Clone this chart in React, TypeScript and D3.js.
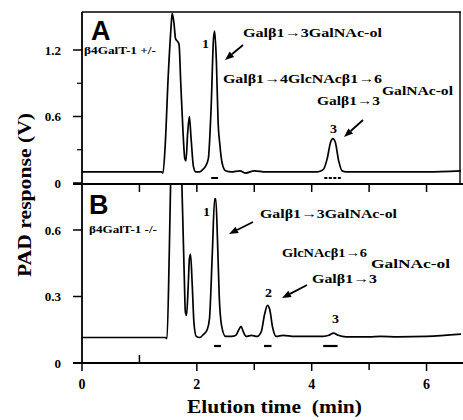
import React from "react";
import * as d3 from "d3";

const xTicks = [0, 2, 4, 6];
const xMinorTicks = [1, 3, 5];
const yTicksA = [0, 0.6, 1.2];
const yMinorA = [0.3, 0.9];
const yTicksB = [0, 0.3, 0.6];

const timeA = [0, 1.38, 1.41, 1.45, 1.5, 1.55, 1.57, 1.6, 1.63, 1.66, 1.69, 1.72, 1.76, 1.79, 1.81, 1.84, 1.87, 1.9, 1.94, 1.98, 2.05, 2.1, 2.15, 2.2, 2.25, 2.29, 2.31, 2.34, 2.37, 2.4, 2.44, 2.5, 2.6, 2.75, 2.85, 3.0, 3.2, 3.4, 3.6, 3.8, 4.1, 4.2, 4.27, 4.33, 4.37, 4.41, 4.47, 4.53, 4.6, 5.0, 5.5, 6.0, 6.6];
const valueA = [0.1, 0.1, 0.09, 0.35, 0.95, 1.4, 1.53, 1.45, 1.3, 1.28, 1.25, 0.9, 0.45, 0.22, 0.2, 0.45, 0.6, 0.4, 0.15, 0.1, 0.1, 0.12, 0.15, 0.22, 0.7, 1.3, 1.37, 1.1, 0.55, 0.35, 0.18, 0.11, 0.1, 0.11, 0.09, 0.11, 0.1, 0.1, 0.1, 0.1, 0.1, 0.12, 0.22, 0.37, 0.4, 0.37, 0.2, 0.11, 0.1, 0.1, 0.1, 0.1, 0.11];

const timeB = [0, 1.45, 1.48, 1.52, 1.55, 1.6, 1.65, 1.72, 1.75, 1.78, 1.8, 1.82, 1.85, 1.87, 1.89, 1.92, 1.95, 1.99, 2.05, 2.12, 2.18, 2.22, 2.27, 2.31, 2.33, 2.36, 2.39, 2.43, 2.5, 2.6, 2.68, 2.73, 2.77, 2.81, 2.86, 2.95, 3.05, 3.12, 3.18, 3.23, 3.27, 3.32, 3.38, 3.5, 3.7, 3.9, 4.2, 4.3, 4.38, 4.46, 4.6, 5.0, 5.2, 5.5, 6.0, 6.6];
const valueB = [0.115, 0.115, 0.11, 0.5, 0.9, 1.2, 1.0, 0.95, 0.7, 0.4, 0.23, 0.215, 0.35, 0.47, 0.49, 0.35, 0.18, 0.12, 0.115, 0.13, 0.15, 0.2, 0.5, 0.74, 0.74, 0.55, 0.3, 0.17, 0.12, 0.12, 0.125, 0.15, 0.165, 0.14, 0.12, 0.125, 0.12, 0.14, 0.22, 0.26, 0.24, 0.16, 0.12, 0.125, 0.12, 0.12, 0.12, 0.125, 0.135, 0.125, 0.118, 0.118, 0.12, 0.118, 0.12, 0.13];

// fraction-collection markers [start, end] in minutes
const markersA = [[2.25, 2.37], [4.22, 4.52]];
const markersB = [[2.3, 2.42], [3.17, 3.3], [4.2, 4.45]];

const serif = "'Liberation Serif', 'DejaVu Serif', serif";

export default function App() {
  const x = d3.scaleLinear().domain([0, 6.6]).range([82, 461]);
  const yA = d3.scaleLinear().domain([0, 1.2]).range([183, 50]);
  const yB = d3.scaleLinear().domain([0, 0.6]).range([363, 230]);

  const lineA = d3
    .line<number>()
    .x((_, i) => x(timeA[i]))
    .y((d) => yA(d))
    .curve(d3.curveMonotoneX);
  const lineB = d3
    .line<number>()
    .x((_, i) => x(timeB[i]))
    .y((d) => yB(d))
    .curve(d3.curveMonotoneX);

  const arrow = (x1: number, y1: number, x2: number, y2: number) => {
    const ang = Math.atan2(y2 - y1, x2 - x1);
    const L = 9, W = 3.5;
    const bx = x2 - L * Math.cos(ang), by = y2 - L * Math.sin(ang);
    const px = -Math.sin(ang) * W, py = Math.cos(ang) * W;
    return (
      <g>
        <line x1={x1} y1={y1} x2={bx} y2={by} stroke="#000" strokeWidth={1.8} />
        <path d={`M${x2},${y2}L${bx + px},${by + py}L${bx - px},${by - py}Z`} fill="#000" />
      </g>
    );
  };

  const txt = { fontFamily: serif, fontWeight: 700, fill: "#000" } as const;
  const T = (props: { x: number; y: number; w: number; s?: number; children: React.ReactNode }) => (
    <text x={props.x} y={props.y} fontSize={props.s ?? 13.5} textLength={props.w} lengthAdjust="spacingAndGlyphs" {...txt}>
      {props.children}
    </text>
  );

  return (
    <svg width={463} height={420} style={{ position: "absolute", left: 0, top: 0, background: "#fff" }}>
      <defs>
        <clipPath id="clipB">
          <rect x={82} y={184} width={381} height={180} />
        </clipPath>
        <clipPath id="clipA">
          <rect x={82} y={12} width={379} height={172} />
        </clipPath>
      </defs>

      {/* Panel A frame */}
      <line x1={82} y1={12} x2={461} y2={12} stroke="#000" strokeWidth={1.6} />
      <line x1={460} y1={12} x2={460} y2={184} stroke="#000" strokeWidth={1.4} />
      <line x1={73} y1={184} x2={463} y2={184} stroke="#000" strokeWidth={1.8} />
      <line x1={82} y1={12} x2={82} y2={364} stroke="#000" strokeWidth={1.8} />
      {/* B bottom axis */}
      <line x1={73} y1={363} x2={463} y2={363} stroke="#000" strokeWidth={1.8} />

      {/* y ticks A */}
      {yTicksA.map((t) => (
        <g key={"ya" + t}>
          <line x1={73} x2={82} y1={yA(t)} y2={yA(t)} stroke="#000" strokeWidth={1.5} />
          <text x={61} y={yA(t) + 4.5} textAnchor="end" fontSize={13} {...txt}>
            {t === 0 ? "0" : t.toFixed(1)}
          </text>
        </g>
      ))}
      {yMinorA.map((t) => (
        <line key={"yma" + t} x1={77} x2={82} y1={yA(t)} y2={yA(t)} stroke="#000" strokeWidth={1.2} />
      ))}
      {/* y ticks B */}
      {yTicksB.map((t) => (
        <g key={"yb" + t}>
          <line x1={73} x2={82} y1={yB(t)} y2={yB(t)} stroke="#000" strokeWidth={1.5} />
          <text x={61} y={yB(t) + 4.5} textAnchor="end" fontSize={13} {...txt}>
            {t === 0 ? "0" : t.toFixed(1)}
          </text>
        </g>
      ))}

      {/* top ticks of B (pointing down from shared line) */}
      {[...xMinorTicks, ...xTicks.filter((t) => t > 0)].map((t) => (
        <line key={"tt" + t} x1={x(t)} x2={x(t)} y1={184} y2={192} stroke="#000" strokeWidth={1.5} />
      ))}

      {/* bottom x ticks */}
      {xTicks.map((t) => (
        <g key={"xb" + t}>
          <line x1={x(t)} x2={x(t)} y1={363} y2={371} stroke="#000" strokeWidth={1.5} />
          <text x={x(t)} y={389} textAnchor="middle" fontSize={14} {...txt}>
            {t}
          </text>
        </g>
      ))}
      {xMinorTicks.map((t) => (
        <line key={"xm" + t} x1={x(t)} x2={x(t)} y1={t === 1 ? 355 : 363} y2={t === 1 ? 363 : 370} stroke="#000" strokeWidth={1.5} />
      ))}

      {/* traces */}
      <path d={lineA(valueA) || ""} fill="none" stroke="#000" strokeWidth={1.7} clipPath="url(#clipA)" />
      <path d={lineB(valueB) || ""} fill="none" stroke="#000" strokeWidth={1.7} clipPath="url(#clipB)" />

      {/* markers */}
      {markersA.map((m, i) => (
        <line key={"ma" + i} x1={x(m[0])} x2={x(m[1])} y1={178} y2={178} stroke="#000" strokeWidth={2} strokeDasharray={i === 1 ? "3,1.5" : undefined} />
      ))}
      {markersB.map((m, i) => (
        <line key={"mb" + i} x1={x(m[0])} x2={x(m[1])} y1={346} y2={346} stroke="#000" strokeWidth={2.2} />
      ))}

      {/* axis labels */}
      <text x={187} y={413} fontSize={18} textLength={175} lengthAdjust="spacingAndGlyphs" {...txt}>
        Elution time{"\u00a0\u00a0"}(min)
      </text>
      <text transform="translate(31,277) rotate(-90)" fontSize={18} textLength={164} lengthAdjust="spacingAndGlyphs" {...txt}>
        PAD response (V)
      </text>

      {/* Panel A annotations */}
      <text x={91} y={40} fontSize={27} fontFamily="'Liberation Sans', Arial, sans-serif" fontWeight={700}>A</text>
      <T x={84} y={54} w={72} s={9.5}>β4GalT-1 +/-</T>
      <T x={202} y={48} w={7} s={13}>1</T>
      {arrow(243, 45, 225, 60)}
      <T x={243} y={37} w={139}>Galβ1→3GalNAc-ol</T>
      <T x={223} y={83} w={159}>Galβ1→4GlcNAcβ1→6</T>
      <T x={382} y={95} w={71}>GalNAc-ol</T>
      <T x={317} y={105} w={63}>Galβ1→3</T>
      <T x={330} y={133} w={7} s={13}>3</T>
      {arrow(363, 120, 344, 137)}

      {/* Panel B annotations */}
      <text x={89} y={214} fontSize={27} fontFamily="'Liberation Sans', Arial, sans-serif" fontWeight={700}>B</text>
      <T x={89} y={233} w={68} s={9.5}>β4GalT-1 -/-</T>
      <T x={203} y={216} w={7} s={13}>1</T>
      {arrow(253, 222, 229, 234)}
      <T x={260} y={218} w={137}>Galβ1→3GalNAc-ol</T>
      <T x={282} y={257} w={85}>GlcNAcβ1→6</T>
      <T x={371} y={268} w={79}>GalNAc-ol</T>
      <T x={312} y={283} w={65}>Galβ1→3</T>
      <T x={265} y={297} w={7} s={13}>2</T>
      {arrow(307, 285, 282, 298)}
      <T x={332} y={323} w={7} s={13}>3</T>
    </svg>
  );
}
